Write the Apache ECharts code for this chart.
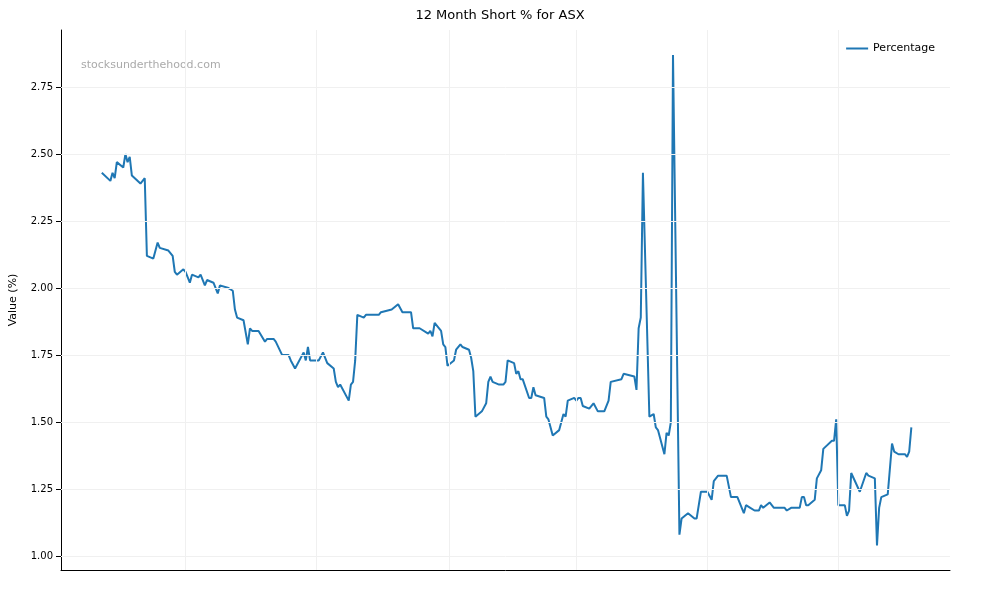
<!DOCTYPE html>
<html>
<head>
<meta charset="utf-8">
<script src="https://cdn.jsdelivr.net/npm/echarts@6/dist/echarts.min.js"></script>
<style>html,body{margin:0;padding:0;background:#fff}#main{width:1000px;height:600px}</style>
</head>
<body>
<div id="main"></div>
<script>
var dates = ['2024-08-23','2024-08-27','2024-08-28','2024-08-29','2024-08-30','2024-09-02','2024-09-03','2024-09-04','2024-09-05','2024-09-06',
  '2024-09-10','2024-09-12','2024-09-13','2024-09-16','2024-09-18','2024-09-19','2024-09-23','2024-09-25','2024-09-26','2024-09-27',
  '2024-09-30','2024-10-01','2024-10-03','2024-10-04','2024-10-07','2024-10-08','2024-10-10','2024-10-11','2024-10-14','2024-10-16',
  '2024-10-17','2024-10-21','2024-10-23','2024-10-24','2024-10-25','2024-10-28','2024-10-30','2024-10-31','2024-11-01','2024-11-04',
  '2024-11-07','2024-11-08','2024-11-11','2024-11-12','2024-11-15','2024-11-18','2024-11-19','2024-11-21','2024-11-25','2024-11-26',
  '2024-11-27','2024-11-28','2024-12-02','2024-12-04','2024-12-06','2024-12-09','2024-12-10','2024-12-11','2024-12-12','2024-12-16',
  '2024-12-17','2024-12-18','2024-12-19','2024-12-20','2024-12-23','2024-12-24','2024-12-30','2024-12-31','2025-01-05','2025-01-08',
  '2025-01-10','2025-01-14','2025-01-15','2025-01-18','2025-01-22','2025-01-23','2025-01-24','2025-01-25','2025-01-28','2025-01-29',
  '2025-01-30','2025-01-31','2025-02-03','2025-02-04','2025-02-06','2025-02-07','2025-02-10','2025-02-11','2025-02-12','2025-02-13',
  '2025-02-16','2025-02-18','2025-02-19','2025-02-20','2025-02-21','2025-02-24','2025-02-26','2025-02-27','2025-02-28','2025-03-03',
  '2025-03-04','2025-03-05','2025-03-06','2025-03-07','2025-03-10','2025-03-11','2025-03-12','2025-03-13','2025-03-17','2025-03-18',
  '2025-03-19','2025-03-21','2025-03-24','2025-03-26','2025-03-27','2025-03-28','2025-03-31','2025-04-01','2025-04-02','2025-04-03',
  '2025-04-04','2025-04-07','2025-04-09','2025-04-11','2025-04-14','2025-04-16','2025-04-17','2025-04-22','2025-04-23','2025-04-28',
  '2025-04-29','2025-04-30','2025-05-01','2025-05-02','2025-05-05','2025-05-07','2025-05-08','2025-05-09','2025-05-12','2025-05-13',
  '2025-05-14','2025-05-15','2025-05-16','2025-05-19','2025-05-20','2025-05-23','2025-05-26','2025-05-27','2025-05-29','2025-05-31',
  '2025-06-01','2025-06-03','2025-06-04','2025-06-06','2025-06-10','2025-06-12','2025-06-15','2025-06-18','2025-06-19','2025-06-21',
  '2025-06-23','2025-06-25','2025-06-26','2025-06-27','2025-06-30','2025-07-02','2025-07-07','2025-07-08','2025-07-10','2025-07-14',
  '2025-07-15','2025-07-16','2025-07-17','2025-07-18','2025-07-21','2025-07-22','2025-07-24','2025-07-25','2025-07-29','2025-07-30',
  '2025-07-31','2025-08-01','2025-08-04','2025-08-05','2025-08-06','2025-08-07','2025-08-11','2025-08-14','2025-08-15','2025-08-18',
  '2025-08-19','2025-08-20','2025-08-21','2025-08-24','2025-08-26','2025-08-27','2025-08-29','2025-09-01','2025-09-02','2025-09-03',
  '2025-09-04'];
var values = [2.43,2.40,2.43,2.41,2.47,2.45,2.50,2.47,2.49,2.42,
  2.39,2.41,2.12,2.11,2.17,2.15,2.14,2.12,2.06,2.05,
  2.07,2.06,2.02,2.05,2.04,2.05,2.01,2.03,2.02,1.98,
  2.01,2.00,1.99,1.92,1.89,1.88,1.79,1.85,1.84,1.84,
  1.80,1.81,1.81,1.80,1.75,1.75,1.73,1.70,1.76,1.73,
  1.78,1.73,1.73,1.76,1.72,1.70,1.65,1.63,1.64,1.58,
  1.64,1.65,1.73,1.90,1.89,1.90,1.90,1.91,1.92,1.94,
  1.91,1.91,1.85,1.85,1.83,1.84,1.82,1.87,1.84,1.79,
  1.78,1.71,1.73,1.77,1.79,1.78,1.77,1.74,1.69,1.52,
  1.54,1.57,1.65,1.67,1.65,1.64,1.64,1.65,1.73,1.72,
  1.68,1.69,1.66,1.66,1.59,1.59,1.63,1.60,1.59,1.52,
  1.51,1.45,1.47,1.53,1.52,1.58,1.59,1.58,1.59,1.59,
  1.56,1.55,1.57,1.54,1.54,1.58,1.65,1.66,1.68,1.67,
  1.62,1.85,1.89,2.43,1.52,1.53,1.48,1.47,1.38,1.46,
  1.45,1.50,2.87,1.08,1.14,1.16,1.14,1.14,1.24,1.24,
  1.24,1.21,1.28,1.30,1.30,1.22,1.22,1.16,1.19,1.18,
  1.17,1.17,1.19,1.18,1.20,1.18,1.18,1.17,1.18,1.18,
  1.22,1.22,1.19,1.19,1.21,1.29,1.32,1.40,1.43,1.43,
  1.51,1.19,1.19,1.15,1.17,1.31,1.24,1.31,1.30,1.29,
  1.04,1.18,1.22,1.23,1.42,1.39,1.38,1.38,1.37,1.39,
  1.48];
var yTicks = [1.00,1.25,1.50,1.75,2.00,2.25,2.50,2.75];
var xTicks = ['2024-10-01','2024-12-01','2025-02-01','2025-04-01','2025-06-01','2025-08-01'];

var chart = echarts.init(document.getElementById('main'));
var seriesData = [];
for (var i = 0; i < dates.length; i++) {
    seriesData.push([dates[i], values[i]]);
}
var gridLines = [];
for (var j = 0; j < yTicks.length; j++) gridLines.push({yAxis: yTicks[j]});
for (var k = 0; k < xTicks.length; k++) gridLines.push({xAxis: xTicks[k]});

var option = {
    animation: false,
    title: {
        text: '12 Month Short % for ASX',
        left: 'center',
        top: 4,
        textStyle: {fontSize: 13, fontWeight: 'normal', color: '#000', fontFamily: 'DejaVu Sans'}
    },
    legend: {
        right: 60,
        top: 38,
        itemWidth: 22,
        itemHeight: 2,
        icon: 'rect',
        textStyle: {fontSize: 11, color: '#000', fontFamily: 'DejaVu Sans'},
        data: ['Percentage']
    },
    graphic: [{
        type: 'text',
        left: 81,
        top: 60,
        style: {text: 'stocksunderthehood.com', fill: '#aaa', font: '11px DejaVu Sans'}
    }],
    grid: {left: 60, right: 50, top: 30, bottom: 30},
    xAxis: {
        type: 'time',
        min: '2024-08-04',
        max: '2025-09-22',
        axisLine: {lineStyle: {color: '#000'}},
        axisTick: {show: false},
        axisLabel: {
            color: '#000', fontSize: 10, fontFamily: 'DejaVu Sans', hideOverlap: false,
            showMinLabel: false, showMaxLabel: false,
            formatter: function (v) {
                var d = new Date(v);
                if (d.getDate() !== 1 || d.getMonth() % 2 === 0) return '';
                return echarts.time.format(v, '{yyyy}-{MM}', false);
            }
        },
        splitLine: {show: false}
    },
    yAxis: {
        type: 'value',
        min: 0.948,
        max: 2.963,
        name: 'Value (%)',
        nameLocation: 'middle',
        nameGap: 42,
        nameTextStyle: {color: '#000', fontSize: 11, fontFamily: 'DejaVu Sans'},
        axisLine: {show: true, lineStyle: {color: '#000'}},
        axisTick: {show: true, customValues: yTicks, lineStyle: {color: '#000'}},
        axisLabel: {
            customValues: yTicks, color: '#000', fontSize: 10, fontFamily: 'DejaVu Sans',
            formatter: function (v) { return v.toFixed(2); }
        },
        splitLine: {show: false}
    },
    series: [{
        name: 'Percentage',
        type: 'line',
        data: seriesData,
        showSymbol: false,
        lineStyle: {color: '#1f77b4', width: 2},
        itemStyle: {color: '#1f77b4'},
        markLine: {
            silent: true,
            symbol: 'none',
            label: {show: false},
            lineStyle: {color: '#f0f0f0', type: 'solid', width: 1},
            data: gridLines
        }
    }]
};
chart.setOption(option);
</script>
</body>
</html>
